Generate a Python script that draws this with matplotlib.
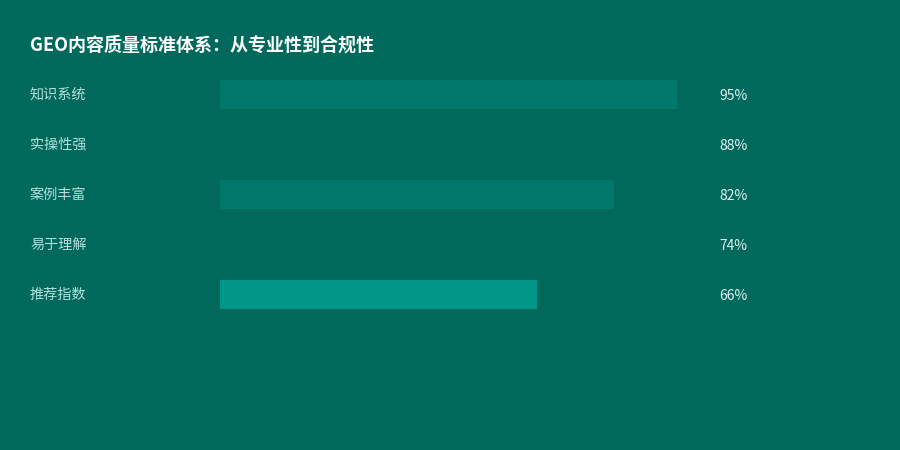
import matplotlib
matplotlib.use("Agg")
import matplotlib.pyplot as plt

plt.rcParams['font.family'] = ['Noto Sans CJK SC', 'DejaVu Sans']

categories = ["知识系统", "实操性强", "案例丰富", "易于理解", "推荐指数"]
values = [95, 88, 82, 74, 66]
bar_colors = ["#00796B", "#00695C", "#00796B", "#00695C", "#009688"]
title = "GEO内容质量标准体系：从专业性到合规性"

BG = "#00695C"
W, H = 900, 450
fig = plt.figure(figsize=(9, 4.5), dpi=100, facecolor=BG)

ax = fig.add_axes([220 / W, 1 - 319.5 / H, 481 / W, 250 / H])
ax.set_facecolor(BG)
ax.set_xlim(0, 100)
ax.set_ylim(len(categories) - 0.5, -0.5)
ypos = list(range(len(categories)))
ax.barh(ypos, values, height=0.58, color=bar_colors, zorder=2)
for s in ax.spines.values():
    s.set_visible(False)
ax.set_xticks([])
ax.set_yticks([])

for i, (c, v) in enumerate(zip(categories, values)):
    ax.annotate(c, xy=(0, i), xycoords=('axes fraction', 'data'),
                xytext=(30 - 220, 0), textcoords='offset pixels',
                ha='left', va='center', fontsize=10.2, color='#B2DFDB')
    ax.annotate(f"{v}%", xy=(1, i), xycoords=('axes fraction', 'data'),
                xytext=(719 - 701, -1), textcoords='offset pixels',
                ha='left', va='center', fontsize=10, color='#E0F2F1')

fig.text(30 / W, 1 - 45 / H, title, ha='left', va='center',
         fontsize=13, fontweight='bold', color='white')

fig.savefig("out.png", dpi=100, facecolor=BG)
